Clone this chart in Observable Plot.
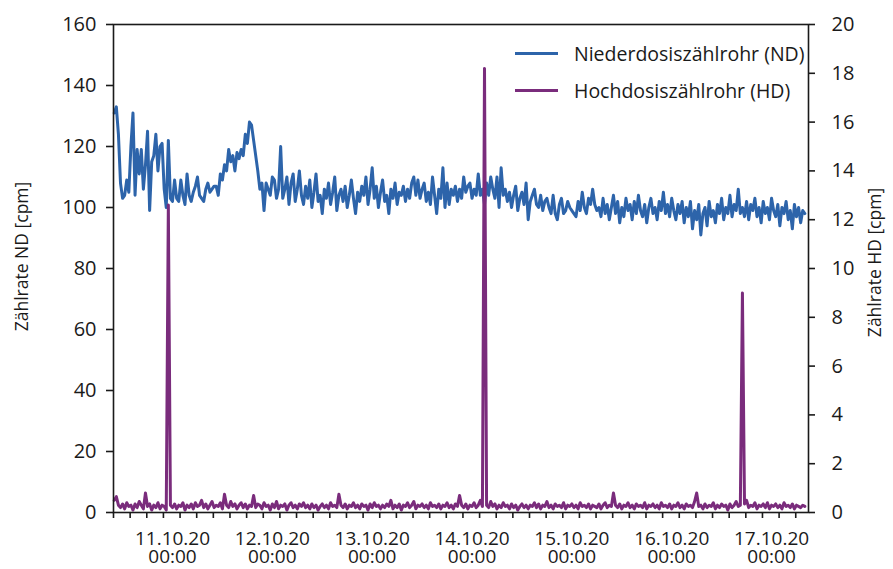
<!DOCTYPE html>
<html><head><meta charset="utf-8">
<script src="https://cdn.jsdelivr.net/npm/d3@7"></script>
<script src="https://cdn.jsdelivr.net/npm/@observablehq/plot@0.6"></script>
<style>
html,body{margin:0;padding:0;background:#fff;}
#wrap{position:relative;width:893px;height:569px;font-family:"Open Sans",sans-serif;}
.legend{position:absolute;left:515px;top:35px;font-size:19.5px;color:#1a1a1a;}
.row{display:flex;align-items:center;height:37px;white-space:nowrap;}
.sw{width:43px;height:3px;margin-right:16px;}
</style></head><body><div id="wrap"></div>
<script>
// Series: 30-minute samples starting 10.10.2020 10:00
const seriesStart = new Date(2020, 9, 10, 10, 0);
const stepMinutes = 30;
const seriesNames = ["Niederdosiszählrohr (ND)", "Hochdosiszählrohr (HD)"];
const seriesColors = ["#2d64aa", "#7a2c7c"];
const axisTitles = ["Zählrate ND [cpm]", "Zählrate HD [cpm]"];
const leftTicks = [0, 20, 40, 60, 80, 100, 120, 140, 160];
const rightTicks = [0, 2, 4, 6, 8, 10, 12, 14, 16, 18, 20];
const dayLabels = ["11.10.20","12.10.20","13.10.20","14.10.20","15.10.20","16.10.20","17.10.20"];
const timeLabel = "00:00";

const ndValues = [
131,133,124,108,103,104,109,105,120,131,
104,119,111,119,106,114,125,99,115,117,
124,112,120,121,106,100,122,103,102,109,
103,102,109,104,101,111,104,102,105,107,
110,104,103,102,106,108,105,106,107,107,
104,111,109,114,112,119,115,117,112,118,
116,119,117,124,121,128,127,122,117,112,
106,108,99,108,106,104,110,109,103,106,
120,103,106,110,101,108,111,102,106,112,
104,101,107,103,109,100,105,111,102,104,
98,106,103,108,101,105,110,99,104,106,
102,107,100,104,109,103,98,105,102,107,
104,110,101,106,113,103,107,100,105,109,
102,104,98,106,103,108,101,105,104,107,
102,106,103,108,110,104,109,103,106,108,
102,105,101,110,104,98,106,103,113,100,
108,101,106,104,107,102,106,103,110,105,
107,108,103,106,104,111,104,106,101,108,
104,110,106,103,110,100,113,104,106,102,
105,100,104,107,99,103,105,101,108,96,
102,104,106,101,100,104,99,102,103,100,
98,104,98,96,101,103,98,99,102,100,
99,98,97,102,99,105,100,98,103,101,
106,101,99,100,97,103,98,101,96,100,
104,98,102,95,100,97,103,99,101,96,
102,98,104,99,97,101,95,100,103,98,
100,96,102,99,105,98,101,97,103,99,
96,101,98,102,95,100,97,102,93,99,
96,101,91,98,100,94,102,97,99,95,
101,98,103,96,100,98,104,97,101,99,
106,98,100,97,102,96,101,99,103,97,
100,95,102,98,100,96,103,99,97,101,
94,100,98,102,96,99,93,101,97,100,
95,99,98
];

const hdValues = [
0.5,0.65,0.3,0.2,0.35,0.15,0.4,0.25,0.3,0.1,
0.35,0.2,0.45,0.3,0.15,0.8,0.25,0.35,0.1,0.3,
0.2,0.4,0.15,0.3,0.25,0.1,12.6,0.3,0.2,0.35,
0.15,0.3,0.25,0.4,0.1,0.3,0.2,0.35,0.15,0.4,
0.25,0.3,0.5,0.2,0.35,0.15,0.3,0.45,0.2,0.3,
0.25,0.4,0.15,0.75,0.3,0.2,0.45,0.25,0.35,0.15,
0.3,0.4,0.2,0.35,0.15,0.3,0.25,0.7,0.2,0.35,
0.3,0.15,0.4,0.25,0.3,0.1,0.35,0.2,0.45,0.15,
0.3,0.25,0.35,0.1,0.3,0.4,0.2,0.3,0.15,0.35,
0.25,0.4,0.2,0.3,0.15,0.35,0.2,0.3,0.1,0.25,
0.35,0.2,0.3,0.15,0.4,0.25,0.3,0.2,0.75,0.3,
0.2,0.35,0.15,0.3,0.25,0.4,0.2,0.3,0.15,0.35,
0.25,0.3,0.1,0.35,0.2,0.4,0.25,0.3,0.15,0.3,
0.2,0.35,0.25,0.5,0.15,0.3,0.2,0.35,0.1,0.3,
0.25,0.4,0.2,0.3,0.45,0.15,0.3,0.25,0.35,0.2,
0.3,0.15,0.4,0.25,0.3,0.2,0.35,0.15,0.3,0.25,
0.4,0.2,0.3,0.15,0.35,0.25,0.7,0.3,0.2,0.35,
0.15,0.3,0.25,0.4,0.2,0.3,0.5,0.25,18.2,0.3,
0.2,0.45,0.25,0.35,0.15,0.3,0.2,0.4,0.25,0.3,
0.15,0.35,0.2,0.3,0.1,0.25,0.35,0.2,0.3,0.15,
0.3,0.25,0.4,0.2,0.35,0.15,0.3,0.25,0.45,0.2,
0.3,0.15,0.35,0.25,0.3,0.2,0.4,0.15,0.3,0.25,
0.35,0.2,0.3,0.15,0.4,0.25,0.3,0.2,0.35,0.15,
0.3,0.25,0.2,0.35,0.15,0.3,0.4,0.2,0.3,0.25,
0.8,0.3,0.2,0.35,0.15,0.3,0.25,0.4,0.2,0.3,
0.15,0.35,0.25,0.3,0.2,0.4,0.15,0.3,0.25,0.35,
0.2,0.3,0.15,0.4,0.25,0.3,0.2,0.35,0.15,0.3,
0.25,0.4,0.2,0.3,0.15,0.35,0.25,0.3,0.2,0.45,
0.8,0.25,0.3,0.15,0.35,0.2,0.3,0.25,0.4,0.15,
0.3,0.2,0.35,0.25,0.3,0.1,0.35,0.2,0.3,0.45,
0.25,0.3,9.0,0.35,0.5,0.2,0.3,0.25,0.4,0.15,
0.3,0.25,0.35,0.2,0.4,0.15,0.3,0.25,0.35,0.2,
0.3,0.15,0.4,0.25,0.3,0.2,0.35,0.15,0.3,0.25,
0.2,0.3,0.25
];

// ---- build table ----
const rightFactor = 160 / 20; // right axis 0–20 maps onto left 0–160
const data = ndValues.map((nd, i) => ({
  time: d3.timeMinute.offset(seriesStart, stepMinutes * i),
  nd,
  hd: hdValues[i]
}));

const xStart = new Date(2020, 9, 10, 9, 49);
const xEnd = new Date(2020, 9, 17, 8, 53);
const minorTicks = d3.range(0, 42).map(k => d3.timeHour.offset(xStart, 4 * k));
const dayTicks = dayLabels.map((_, k) => new Date(2020, 9, 11 + k));
const dayIndex = d => dayTicks.findIndex(t => +t === +d);
const ink = "#1a1a1a";

const chart = Plot.plot({
  width: 893,
  height: 569,
  marginLeft: 113,
  marginRight: 85,
  marginTop: 24,
  marginBottom: 57,
  style: {fontFamily: "'Open Sans', sans-serif", fontSize: "20px", color: ink, background: "#fff", overflow: "visible"},
  x: {type: "time", domain: [xStart, xEnd]},
  y: {domain: [0, 160]},
  marks: [
    Plot.lineY(data, {x: "time", y: "nd", stroke: seriesColors[0], strokeWidth: 3}),
    Plot.lineY(data, {x: "time", y: d => d.hd * rightFactor, stroke: seriesColors[1], strokeWidth: 3}),
    Plot.frame({stroke: ink, strokeWidth: 1.6}),
    Plot.axisY({anchor: "left", ticks: leftTicks, tickSize: 7, tickPadding: 10, strokeWidth: 1.6, fontSize: 20, label: null}),
    Plot.axisY({anchor: "right", ticks: rightTicks.map(v => v * rightFactor), tickFormat: v => String(v / rightFactor), tickSize: 6, tickPadding: 17, strokeWidth: 1.6, fontSize: 20, label: null}),
    Plot.axisX({ticks: minorTicks, tickSize: 6, strokeWidth: 1.6, fill: "none", label: null}),
    Plot.axisX({ticks: dayTicks, tickSize: 0, tickPadding: 19, fontSize: 19, tickFormat: d => dayLabels[dayIndex(d)], label: null}),
    Plot.axisX({ticks: dayTicks, tickSize: 0, tickPadding: 36.5, fontSize: 19, tickFormat: () => timeLabel, label: null}),
    Plot.text([axisTitles[0]], {frameAnchor: "left", text: d => d, rotate: -90, dx: -86, dy: -12, lineAnchor: "bottom", textAnchor: "middle", fontSize: 17.5, fill: ink}),
    Plot.text([axisTitles[1]], {frameAnchor: "right", text: d => d, rotate: -90, dx: 72, dy: -6, lineAnchor: "bottom", textAnchor: "middle", fontSize: 17.5, fill: ink})
  ]
});

const wrap = document.getElementById("wrap");
wrap.appendChild(chart);
const legend = document.createElement("div");
legend.className = "legend";
seriesNames.forEach((name, i) => {
  const row = document.createElement("div");
  row.className = "row";
  const sw = document.createElement("span");
  sw.className = "sw";
  sw.style.background = seriesColors[i];
  const label = document.createElement("span");
  label.textContent = name;
  row.appendChild(sw);
  row.appendChild(label);
  legend.appendChild(row);
});
wrap.appendChild(legend);
</script>
</body></html>
